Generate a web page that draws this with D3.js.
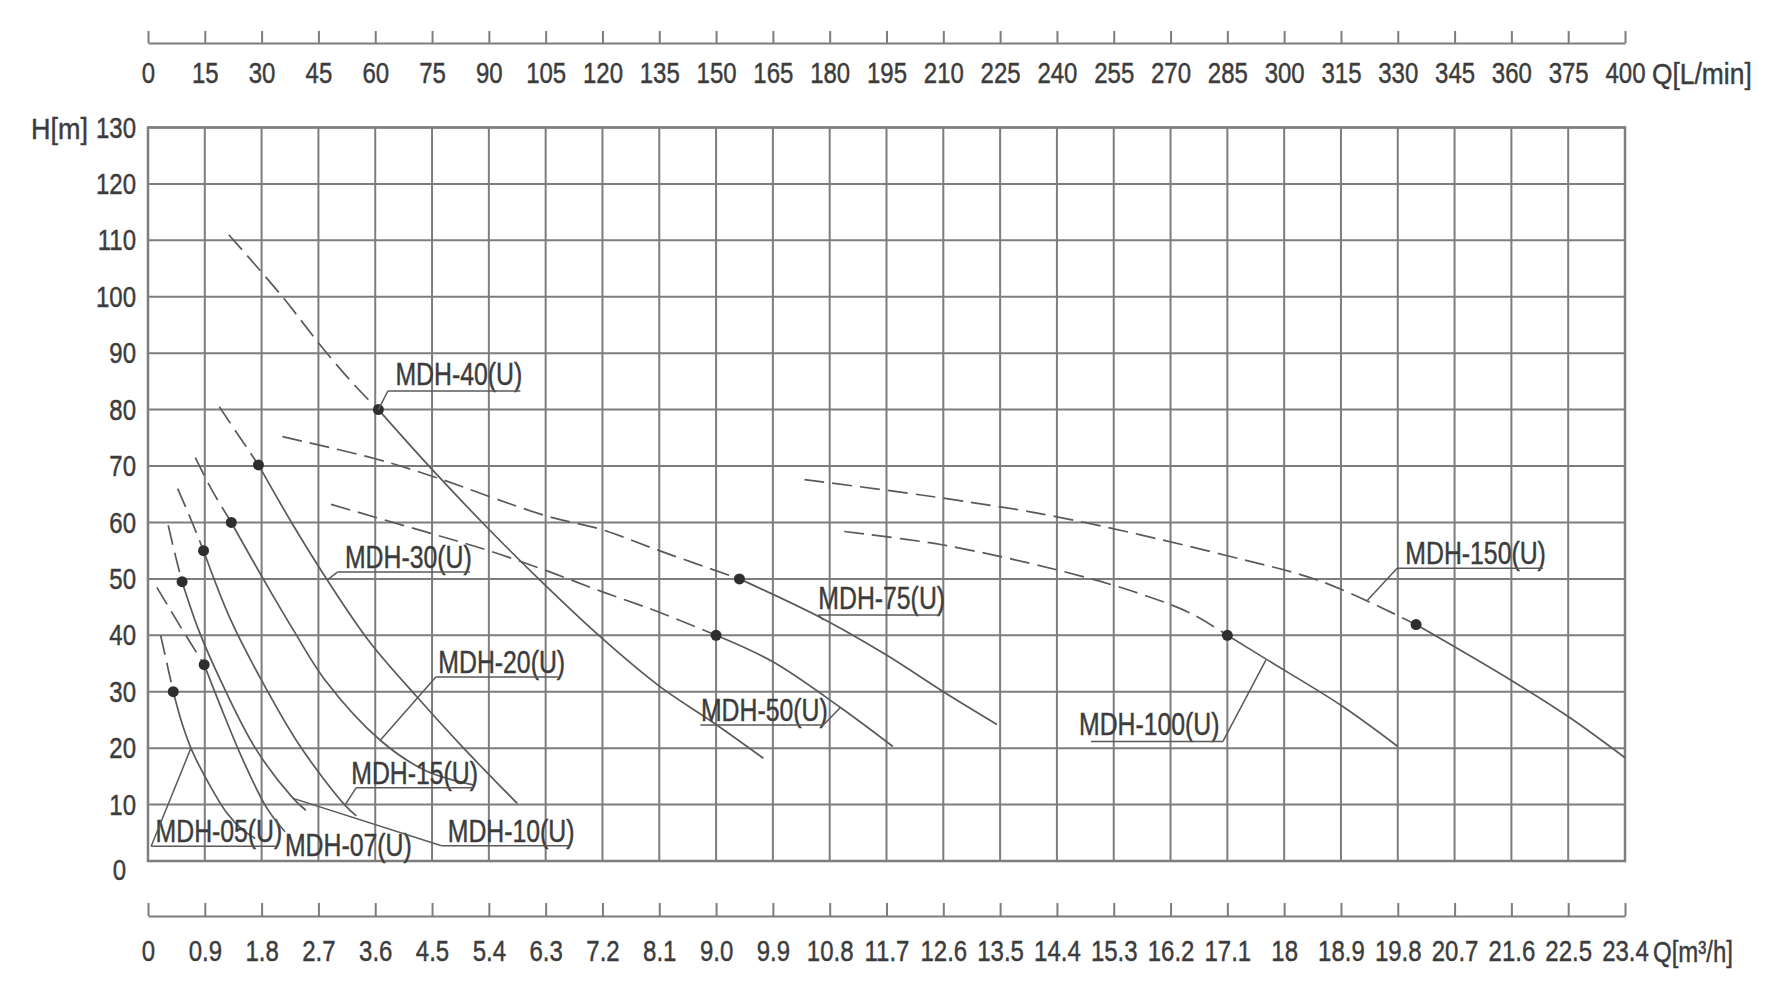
<!DOCTYPE html>
<html><head><meta charset="utf-8">
<script src="https://cdn.jsdelivr.net/npm/d3@7"></script>
<style>
html,body{margin:0;padding:0;background:#fff;}
svg{display:block;}
text{font-family:"Liberation Sans",Arial,sans-serif;fill:#3c3c3c;stroke:#3c3c3c;stroke-width:0.45px;}
</style></head><body>
<svg id="chart" width="1769" height="1000"></svg>
<script>
// ---------- axis data ----------
const qM3hTicks = [0,0.9,1.8,2.7,3.6,4.5,5.4,6.3,7.2,8.1,9.0,9.9,10.8,11.7,12.6,13.5,14.4,15.3,16.2,17.1,18,18.9,19.8,20.7,21.6,22.5,23.4];
const qM3hLabels = ["0","0.9","1.8","2.7","3.6","4.5","5.4","6.3","7.2","8.1","9.0","9.9","10.8","11.7","12.6","13.5","14.4","15.3","16.2","17.1","18","18.9","19.8","20.7","21.6","22.5","23.4"];
const qLminLabels = ["0","15","30","45","60","75","90","105","120","135","150","165","180","195","210","225","240","255","270","285","300","315","330","345","360","375","400"];
const headTicks = [0,10,20,30,40,50,60,70,80,90,100,110,120,130];

// ---------- series data: [Q m3/h, H m] ----------
const seriesNames = ["MDH-05(U)","MDH-07(U)","MDH-10(U)","MDH-15(U)","MDH-20(U)","MDH-30(U)","MDH-40(U)","MDH-50(U)","MDH-75(U)","MDH-100(U)","MDH-150(U)"];
const mdh05Dashed = [[0.2,40],[0.3,35],[0.4,30]];
const mdh05Solid  = [[0.4,30],[0.55,24],[0.7,19.5],[0.95,14],[1.25,8.5],[1.5,5.5],[1.7,4]];
const mdh07Dashed = [[0.14,48.5],[0.5,41.8],[0.89,34.8]];
const mdh07Solid  = [[0.89,34.8],[1.2,26],[1.5,18],[1.85,10],[2.0,7.5]];
const mdh10Dashed = [[0.32,59.5],[0.43,54.3],[0.54,49.5]];
const mdh10Solid  = [[0.54,49.5],[0.8,41],[1.15,32],[1.7,20],[2.3,11.1],[2.5,9]];
const mdh15Dashed = [[0.47,66],[0.7,60],[0.88,55]];
const mdh15Solid  = [[0.88,55],[1.3,43],[1.8,32],[2.4,20.5],[3.12,9.9],[3.3,8]];
const mdh20Dashed = [[0.75,71.5],[1.0,66],[1.32,60]];
const mdh20Solid  = [[1.32,60],[1.8,50.5],[2.3,41],[2.81,32],[3.68,21.4],[4.4,16],[5.15,13.5]];
const mdh30Dashed = [[1.13,80.5],[1.4,76],[1.75,70.2]];
const mdh30Solid  = [[1.75,70.2],[2.3,59.5],[2.84,49.8],[3.5,39],[4.26,29.1],[5.0,20],[5.85,10.2]];
const mdh40Dashed = [[1.28,111],[2.13,100],[2.76,91],[3.3,84],[3.65,80]];
const mdh40Solid  = [[3.65,80],[4.5,69.4],[5.4,58.8],[6.3,48.8],[7.2,39.4],[8.1,31],[9.0,24.2],[9.75,18.2]];
const mdh50Dashed = [[2.9,63.2],[4.5,58],[5.4,55],[6.3,51.5],[7.2,47.7],[8.1,44.1],[9.0,40]];
const mdh50Solid  = [[9.0,40],[9.9,35.3],[10.97,27.2],[11.8,20.3]];
const mdh75Dashed = [[2.13,75.2],[3.6,71.3],[4.5,68.2],[6.3,61.2],[7.2,58.7],[8.1,55],[9.37,50]];
const mdh75Solid  = [[9.37,50],[10.7,42.9],[11.7,36.5],[12.6,30],[13.45,24.2]];
const mdh100Dashed = [[11.03,58.4],[12.6,56],[14.4,51.6],[15.6,47.8],[16.5,44],[17.1,40]];
const mdh100Solid  = [[17.1,40],[17.74,35.6],[18.9,27.6],[19.8,20.3]];
const mdh150Dashed = [[10.4,67.6],[12.6,64.3],[14.4,61.0],[17.1,54.1],[18.6,49.5],[20.09,41.9]];
const mdh150Solid  = [[20.09,41.9],[21.6,32],[22.5,25.6],[23.4,18.3]];

const dashedSets = [mdh05Dashed,mdh07Dashed,mdh10Dashed,mdh15Dashed,mdh20Dashed,mdh30Dashed,mdh40Dashed,mdh50Dashed,mdh75Dashed,mdh100Dashed,mdh150Dashed];
const solidSets  = [mdh05Solid,mdh07Solid,mdh10Solid,mdh15Solid,mdh20Solid,mdh30Solid,mdh40Solid,mdh50Solid,mdh75Solid,mdh100Solid,mdh150Solid];

// ---------- layout ----------
const svg = d3.select("#chart");
const x = d3.scaleLinear().domain([0,23.4]).range([148,1625]);
const y = d3.scaleLinear().domain([0,130]).range([861,127.5]);
const ink = "#3c3c3c", gridCol = "#7d7d7d", curveCol = "#5a5a5a";
const NARROW = 0.8;

// grid
const grid = svg.append("g");
grid.selectAll("line.v").data(qM3hTicks).join("line")
  .attr("x1",d=>x(d)).attr("x2",d=>x(d)).attr("y1",y(0)).attr("y2",y(130))
  .attr("stroke",gridCol).attr("stroke-width",2);
grid.selectAll("line.h").data(headTicks).join("line")
  .attr("x1",x(0)).attr("x2",x(23.4)).attr("y1",d=>y(d)).attr("y2",d=>y(d))
  .attr("stroke",gridCol).attr("stroke-width",2);

// top axis (L/min)
const topAxis = d3.axisBottom(x).tickValues(qM3hTicks).tickFormat((d,i)=>qLminLabels[i])
  .tickSizeInner(-12).tickSizeOuter(0).tickPadding(19);
const gTop = svg.append("g").attr("transform","translate(0,43)").call(topAxis);
// bottom axis (m3/h)
const botAxis = d3.axisBottom(x).tickValues(qM3hTicks).tickFormat((d,i)=>qM3hLabels[i])
  .tickSizeInner(-13).tickSizeOuter(0).tickPadding(24);
const gBot = svg.append("g").attr("transform","translate(0,916)").call(botAxis);
// left axis
const leftAxis = d3.axisLeft(y).tickValues(headTicks).tickSize(0).tickPadding(12);
const gLeft = svg.append("g").attr("transform",`translate(${x(0)},0)`).call(leftAxis);
gLeft.select(".domain").remove();

[gTop,gBot].forEach(g=>{
  g.select(".domain").attr("stroke",gridCol).attr("stroke-width",2);
  g.selectAll(".tick line").attr("stroke",gridCol).attr("stroke-width",2);
});
[gTop,gBot,gLeft].forEach(g=>{
  g.attr("font-size",null).attr("font-family",null);
  g.selectAll(".tick text").attr("fill",ink).style("font-size","30px")
    .attr("transform",`scale(${NARROW},1)`);
});
gLeft.selectAll(".tick text").attr("x",-12/NARROW);
gLeft.selectAll(".tick").filter(d=>d===0).select("text").attr("x",-22/NARROW).attr("dy","0.6em");

// axis titles
function narrowText(px,py,str,sx,anchor){
  return svg.append("text").attr("transform",`translate(${px},${py}) scale(${sx},1)`)
    .attr("text-anchor",anchor||"start").style("font-size","30px").text(str);
}
narrowText(1652,84,"Q[L/min]",0.88);
narrowText(1653,962,"Q[m³/h]",0.8);
narrowText(88,y(130)+11,"H[m]",0.9,"end");

// frame
svg.append("rect").attr("x",x(0)).attr("y",y(130)).attr("width",x(23.4)-x(0)).attr("height",y(0)-y(130))
  .attr("fill","none").attr("stroke",gridCol).attr("stroke-width",2.5);

// curves
const line = d3.line().x(d=>x(d[0])).y(d=>y(d[1])).curve(d3.curveCatmullRom.alpha(0.5));
const curves = svg.append("g");
curves.selectAll("path.dash").data(dashedSets).join("path")
  .attr("d",line).attr("fill","none").attr("stroke",curveCol).attr("stroke-width",1.7)
  .attr("stroke-dasharray","20,8");
curves.selectAll("path.solid").data(solidSets).join("path")
  .attr("d",line).attr("fill","none").attr("stroke",curveCol).attr("stroke-width",1.7);
curves.selectAll("circle").data(solidSets.map(s=>s[0])).join("circle")
  .attr("cx",d=>x(d[0])).attr("cy",d=>y(d[1])).attr("r",5.5).attr("fill","#2e2e2e");

// labels: text position, underline and leader (in data units)
const labelLayout = [
  {t:[0.12,3.4], u:[0.05,2.05,2.6], l:[[0.68,20],[0.05,2.6]]},
  {t:[2.17,0.9], u:null, l:[[2.0,7.5],[2.17,5.2]]},
  {t:[4.75,3.3], u:[4.65,6.7,2.7], l:[[2.3,11.1],[4.65,2.7]]},
  {t:[3.22,13.6], u:[3.3,5.15,13.0], l:[[3.12,9.9],[3.3,13.0]]},
  {t:[4.6,33.3], u:[4.56,6.5,32.6], l:[[3.68,21.4],[4.56,32.6]]},
  {t:[3.12,52.0], u:[3.0,5.1,51.2], l:[[2.84,49.8],[3.0,51.2]]},
  {t:[3.92,84.3], u:[3.8,5.9,83.3], l:[[3.65,80],[3.8,83.3]]},
  {t:[8.76,24.9], u:[8.75,10.7,24.1], l:[[10.7,24.1],[10.97,27.2]]},
  {t:[10.62,44.6], u:[10.62,12.55,43.6], l:[[10.7,42.7],[10.62,43.6]]},
  {t:[14.75,22.3], u:[14.94,17.03,21.2], l:[[17.03,21.2],[17.71,35.6]]},
  {t:[19.92,52.7], u:[19.79,22.1,51.9], l:[[19.32,46.2],[19.79,51.9]]}
];
const lab = svg.append("g");
labelLayout.forEach((L,i)=>{
  lab.append("text").attr("transform",`translate(${x(L.t[0])},${y(L.t[1])}) scale(${NARROW},1)`)
    .style("font-size","31px").text(seriesNames[i]);
  if(L.u) lab.append("line").attr("x1",x(L.u[0])).attr("x2",x(L.u[1])).attr("y1",y(L.u[2])).attr("y2",y(L.u[2]))
      .attr("stroke",curveCol).attr("stroke-width",1.5);
  lab.append("line").attr("x1",x(L.l[0][0])).attr("y1",y(L.l[0][1])).attr("x2",x(L.l[1][0])).attr("y2",y(L.l[1][1]))
      .attr("stroke",curveCol).attr("stroke-width",1.5);
});
</script>
</body></html>
